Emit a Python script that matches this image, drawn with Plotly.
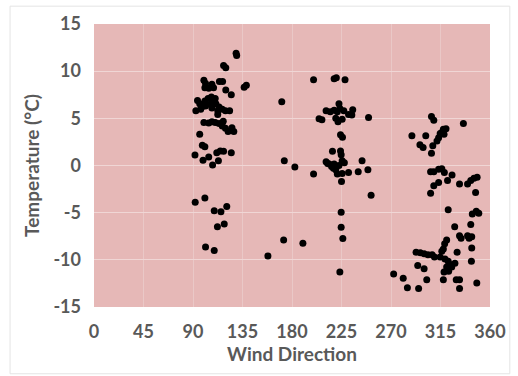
import plotly.graph_objects as go

wind_direction = [
    129.2, 129.7, 117.8, 119.8, 136.5, 138.5, 99.9, 101.4, 107.2, 108.7, 114.0, 116.9, 119.8, 124.8, 100.8, 104.3,
    94.1, 96.1, 92.6, 97.9, 100.8, 103.7, 106.7, 108.7, 110.8, 113.7, 116.6, 119.5, 123.3, 105.8, 101.4, 110.2, 97.0, 112.5, 107.2,
    99.9, 104.3, 107.2, 110.2, 113.7, 116.6, 119.5, 121.9, 125.4, 127.1, 112.5, 117.5,
    96.1, 98.5, 100.8, 91.8, 99.1, 104.3, 107.8, 113.1, 111.6, 114.8, 117.8, 124.8,
    92.0, 100.8, 109.3, 115.4, 120.7, 112.2, 118.4, 101.4, 109.3,
    158.1, 170.7, 173.0, 182.6, 172.4, 189.9, 199.6, 199.6,
    204.6, 207.2, 218.3, 220.3, 228.2, 211.0, 214.8, 218.3, 221.2, 222.7, 223.5, 227.1, 231.4, 235.2, 234.4,
    219.8, 221.8, 225.6, 249.6, 224.1, 225.9, 216.8, 224.1, 224.7, 211.0, 213.9, 216.0, 217.7, 219.8, 222.7,
    225.6, 227.6, 221.2, 225.6, 231.4, 240.2, 243.7, 249.0, 225.0, 251.9, 224.7, 224.7, 226.2, 223.5, 218.3, 212.4,
    272.4, 281.1, 284.9, 295.1, 289.0, 296.3, 299.2, 301.6, 306.8, 308.9, 308.0, 306.8, 313.3, 316.2, 317.6, 320.0,
    318.2, 314.7, 311.8, 335.8, 306.0, 308.9, 313.3, 316.2, 318.5, 313.3, 308.9, 306.0, 321.4, 325.5, 332.3, 339.6,
    342.5, 345.4, 348.3, 346.9, 322.0, 343.9, 347.5, 349.8, 342.5, 327.9, 332.3, 333.7, 339.6, 341.0, 343.4, 343.4,
    343.1, 348.0, 320.6, 318.8, 317.6, 316.2, 292.8, 296.6, 300.1, 303.6, 307.4, 309.5, 294.3, 300.1, 302.5, 314.7,
    319.1, 322.0, 323.5, 320.6, 322.4, 318.2, 325.2, 328.1, 330.1, 317.6, 329.3, 332.3, 332.3,
]

temperature = [
    11.9, 11.65, 10.6, 10.35, 8.3, 8.5, 9.05, 8.7, 8.6, 8.25, 8.9, 8.9, 8.0, 7.5, 8.25, 8.2,
    6.9, 6.55, 5.8, 6.2, 6.85, 7.1, 7.25, 6.85, 6.55, 6.2, 5.95, 5.8, 5.8, 6.5, 6.3, 7.1, 5.95, 5.8, 6.1,
    4.55, 4.5, 4.65, 4.55, 4.45, 4.2, 3.95, 3.6, 4.0, 3.6, 5.4, 4.7,
    3.3, 2.15, 2.0, 1.1, 0.55, 0.9, 0.05, 0.5, 1.35, 1.55, 1.5, 1.35,
    -3.9, -3.45, -4.8, -4.9, -4.35, -6.5, -6.2, -8.65, -9.0,
    -9.6, 6.75, 0.5, -0.15, -7.9, -8.25, 9.1, -0.9,
    4.95, 4.85, 9.2, 9.3, 9.1, 5.8, 5.7, 5.85, 5.7, 6.55, 6.05, 5.8, 5.4, 5.9, 5.35,
    5.0, 4.65, 4.9, 5.1, 3.25, 3.0, 1.5, 1.55, 1.15, 0.4, 0.15, -0.1, -0.3, -0.45, 0.0,
    0.5, 0.3, -0.9, -0.85, -0.75, -0.65, 0.5, -0.45, -1.7, -3.15, -4.95, -6.55, -7.75, -11.3, 0.15, 0.2,
    -11.5, -11.95, -12.95, -13.05, 3.15, 2.2, 1.9, 3.15, 5.2, 4.8, 2.1, 1.3, 2.95, 3.5, 3.85, 3.9,
    3.3, 3.4, 2.6, 4.45, -0.65, -0.65, -0.4, -0.35, -0.75, -1.8, -2.15, -2.95, -1.6, -1.0, -1.95, -1.95,
    -1.6, -1.35, -1.25, -2.85, -4.7, -5.15, -4.85, -5.05, -6.25, -6.5, -7.45, -7.7, -7.45, -7.7, -7.55, -8.75,
    -10.15, -12.45, -7.9, -8.3, -8.85, -9.1, -9.2, -9.25, -9.35, -9.45, -9.45, -9.7, -10.6, -10.95, -12.1, -9.7,
    -9.9, -10.15, -10.5, -10.75, -11.2, -11.3, -10.75, -10.35, -9.2, -12.1, -12.1, -12.1, -13.05,
]

x_ticks = [0, 45, 90, 135, 180, 225, 270, 315, 360]
y_ticks = [-15, -10, -5, 0, 5, 10, 15]

font_family = "Lato, Open Sans, sans-serif"
text_color = "#595959"

fig = go.Figure(
    go.Scatter(
        x=wind_direction,
        y=temperature,
        mode="markers",
        marker=dict(color="black", size=7),
        hoverinfo="x+y",
    )
)

fig.update_layout(
    width=518,
    height=376,
    margin=dict(l=94, r=13, t=23, b=69),
    paper_bgcolor="white",
    plot_bgcolor="#e6b8b7",
    showlegend=False,
    font=dict(family=font_family, color=text_color, size=18),
    shapes=[
        dict(type="rect", xref="paper", yref="paper", x0=-0.212, x1=1.05, y0=-0.236, y1=1.063,
             line=dict(color="#e4e4e4", width=1), fillcolor="rgba(0,0,0,0)", layer="below"),
    ],
)

fig.update_xaxes(
    range=[0, 360],
    tickvals=x_ticks,
    ticktext=[str(v) for v in x_ticks],
    tickfont=dict(size=18, family=font_family, color=text_color, weight="bold"),
    ticklabeloverflow="allow",
    title=dict(text="<b>Wind Direction</b>", font=dict(size=19, family=font_family, color=text_color), standoff=4),
    showgrid=True,
    gridcolor="rgba(234,200,199,1)",
    gridwidth=1,
    zeroline=False,
    showline=False,
    ticks="",
    ticklabelstandoff=12,
)

fig.update_yaxes(
    range=[-15, 15],
    tickvals=y_ticks,
    ticktext=[str(v) for v in y_ticks],
    tickfont=dict(size=18, family=font_family, color=text_color, weight="bold"),
    ticklabeloverflow="allow",
    title=dict(text="<b>Temperature (°C)</b>", font=dict(size=19, family=font_family, color=text_color), standoff=8),
    showgrid=True,
    gridcolor="rgba(240,214,213,1)",
    gridwidth=1,
    zeroline=False,
    showline=False,
    ticks="",
    ticklabelstandoff=12,
)

fig.write_html(
    "out.html",
    config={"displayModeBar": False},
    post_script="document.body.style.margin='0';document.body.style.overflow='hidden';",
)
